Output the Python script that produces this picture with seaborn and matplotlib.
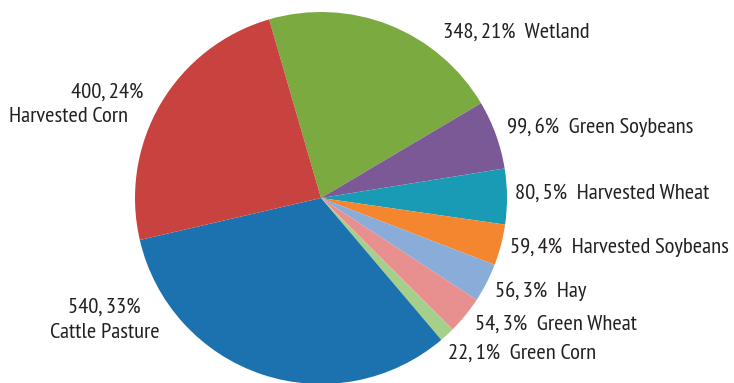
import matplotlib
matplotlib.use("Agg")
import matplotlib.pyplot as plt
import seaborn as sns

# data (clockwise from top)
categories = ["Wetland", "Green Soybeans", "Harvested Wheat", "Harvested Soybeans",
              "Hay", "Green Wheat", "Green Corn", "Cattle Pasture", "Harvested Corn"]
values = [348, 99, 80, 59, 56, 54, 22, 540, 400]
percents = [21, 6, 5, 4, 3, 3, 1, 33, 24]
colors = ["#7aaa40", "#7b5996", "#1a9bb5", "#f3862f", "#8aacd8",
          "#e8908f", "#a5cf8a", "#1b72ae", "#c84340"]

sns.set_theme(style="white")
plt.rcParams['font.family'] = ['PT Sans Narrow', 'DejaVu Sans']

W, H = 734, 383
fig = plt.figure(figsize=(W / 100, H / 100), dpi=100)
ax = fig.add_axes([0, 0, 1, 1])

cx, cy, R = 321, 198, 186  # pixel center / radius


def px(x, y):
    return ((x - cx) / R, (cy - y) / R)


ax.pie(values, colors=colors, startangle=106.2, counterclock=False,
       wedgeprops=dict(linewidth=0))
ax.set_xlim(-cx / R, (W - cx) / R)
ax.set_ylim(-(H - cy) / R, cy / R)
ax.set_aspect('auto')
ax.axis('off')

tc = "#231f20"
fs = 16.2
# right-hand labels: (left x, center y)
right_pos = {
    "Wetland": (443, 32),
    "Green Soybeans": (507, 127),
    "Harvested Wheat": (515, 193),
    "Harvested Soybeans": (510, 247),
    "Hay": (495, 291),
    "Green Wheat": (475, 324),
    "Green Corn": (448, 353),
}
for cat, v, p in zip(categories, values, percents):
    if cat in right_pos:
        x, y = px(*right_pos[cat])
        ax.text(x, y, f"{v}, {p}%  {cat}", ha="left", va="center",
                fontsize=fs, color=tc)

left_pos = {
    "Harvested Corn": [(107, 92), (69, 117)],
    "Cattle Pasture": [(104, 307), (105, 333)],
}
for cat, v, p in zip(categories, values, percents):
    if cat in left_pos:
        (x1, y1), (x2, y2) = left_pos[cat]
        ax.text(*px(x1, y1), f"{v}, {p}%", ha="center", va="center",
                fontsize=fs, color=tc)
        ax.text(*px(x2, y2), cat, ha="center", va="center",
                fontsize=fs, color=tc)

fig.savefig("out.png", dpi=100)
